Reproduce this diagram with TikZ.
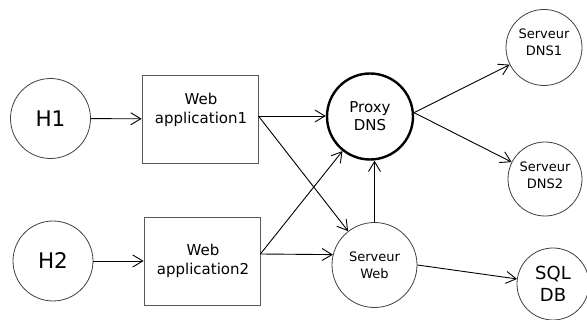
\documentclass[tikz,border=0pt]{standalone}
\usepackage{fontspec}
\setmainfont{DejaVu Sans}
\usetikzlibrary{arrows.meta}
\begin{document}
\begin{tikzpicture}[x=1pt,y=-1pt,
  circ/.style={circle,draw=black!75,line width=0.8pt,inner sep=0pt,align=center},
  boxn/.style={rectangle,draw=black!65,line width=0.8pt,inner sep=0pt},
  lbl/.style={align=center,inner sep=0pt},
  conn/.style={line width=0.9pt,-{Straight Barb[length=10pt,width=12pt,line width=0.9pt]}}]
\useasboundingbox (0,0) rectangle (587,320);
\clip (0,0) rectangle (587,320);
% hosts
\node[circ,minimum size=80pt,font=\fontsize{21.5}{24}\selectfont] (h1) at (50.5,118.5) {H1};
\node[circ,minimum size=80pt,font=\fontsize{21.5}{24}\selectfont] (h2) at (53,261) {H2};
% boxes
\node[boxn,minimum width=116pt,minimum height=88pt] (b1) at (200,119) {};
\node[lbl,font=\fontsize{15}{18.5}\selectfont] (t1) at (201,110) {Web\\application1};
\node[boxn,minimum width=116pt,minimum height=88pt] (b2) at (202,261) {};
\node[lbl,font=\fontsize{15}{18.5}\selectfont] (t2) at (203,261) {Web\\application2};
% proxy
\node[circ,draw=black,line width=2.4pt,minimum size=86pt,font=\fontsize{15}{18}\selectfont] (px) at (370,116.5) {Proxy\\DNS};
% serveur web
\node[circ,minimum size=85pt,font=\fontsize{13}{17}\selectfont] (sw) at (374.5,265) {Serveur\\Web};
% dns servers
\node[circ,minimum size=76pt] (d1) at (544,47.5) {};
\node[lbl,font=\fontsize{13}{17}\selectfont] (td1) at (544,42) {Serveur\\DNS1};
\node[circ,minimum size=74pt] (d2) at (545,179) {};
\node[lbl,font=\fontsize{13}{17}\selectfont] (td2) at (545,175) {Serveur\\DNS2};
% sql
\node[circ,minimum size=72pt,font=\fontsize{18}{22}\selectfont] (sql) at (553,284) {SQL\\DB};
% exit points on the boxes
\coordinate (b1o) at ([yshift=3pt]b1.east);
\coordinate (b2o) at ([yshift=7pt]b2.east);
% connectors
\draw[conn] (h1) -- (b1);
\draw[conn] (h2) -- (b2);
\draw[conn] (b1o) -- (b1o -| px.west);
\draw[conn] (b1o) -- (sw);
\draw[conn] (b2o) -- (px);
\draw[conn] (b2o) -- (sw.166);
\draw[conn] (sw) -- (sw |- px.south);
\draw[conn] (px.5) -- (d1);
\draw[conn] (px.5) -- (d2);
\draw[conn] (sw.east) -- (sql);
\end{tikzpicture}
\end{document}
